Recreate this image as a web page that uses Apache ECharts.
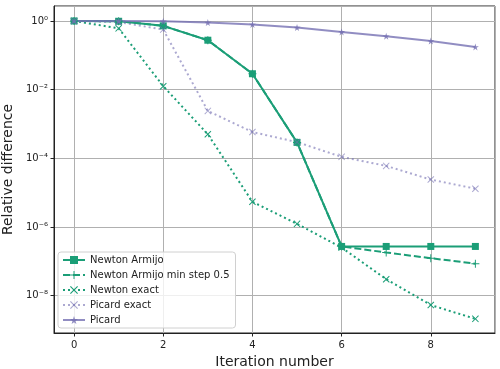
<!DOCTYPE html>
<html>
<head>
<meta charset="utf-8">
<script src="https://cdn.jsdelivr.net/npm/echarts@6/dist/echarts.min.js"></script>
<style>
	html, body { margin: 0; padding: 0; background: #fff; }
	#chart { width: 500px; height: 369px; }
</style>
</head>
<body>
<div id="chart"></div>
<script>
	// 数据
	var iterations = [0, 1, 2, 3, 4, 5, 6, 7, 8, 9];
	var newtonArmijo = [1.0, 0.98, 0.72, 0.275, 0.029, 2.9e-4, 2.7e-7, 2.7e-7, 2.7e-7, 2.7e-7];
	var newtonArmijoMinStep = [1.0, 0.98, 0.72, 0.275, 0.029, 2.9e-4, 2.7e-7, 1.8e-7, 1.23e-7, 8.5e-8];
	var newtonExact = [1.0, 0.61, 0.0126, 5.0e-4, 5.4e-6, 1.23e-6, 2.5e-7, 3.0e-8, 5.3e-9, 2.1e-9];
	var picardExact = [1.0, 0.93, 0.56, 2.4e-3, 5.8e-4, 2.96e-4, 1.1e-4, 6.0e-5, 2.4e-5, 1.3e-5];
	var picard = [1.0, 0.99, 0.98, 0.9, 0.79, 0.64, 0.48, 0.36, 0.26, 0.175];

	var seriesNames = ['Newton Armijo', 'Newton Armijo min step 0.5', 'Newton exact', 'Picard exact', 'Picard'];

	var GREEN = '#1b9e77';
	var PURPLE = 'rgba(117,112,179,0.8)';
	var PURPLE_LIGHT = 'rgba(117,112,179,0.6)';

	var SYM_X = 'path://M0,1L1,0L5,4L9,0L10,1L6,5L10,9L9,10L5,6L1,10L0,9L4,5Z';
	var SYM_PLUS = 'path://M4.4,0H5.6V4.4H10V5.6H5.6V10H4.4V5.6H0V4.4H4.4Z';
	var SYM_STAR = 'path://M50,0L61,35L98,35L68,57L79,91L50,70L21,91L32,57L2,35L39,35Z';

	var SUP = {'-': '\u207b', '0': '\u2070', '1': '\u00b9', '2': '\u00b2', '3': '\u00b3',
		'4': '\u2074', '5': '\u2075', '6': '\u2076', '7': '\u2077', '8': '\u2078', '9': '\u2079'};

	function toPairs(values){
		var results = [];
		for(var i = 0;i < iterations.length;i++){
			results.push([iterations[i], values[i]]);
		}
		return results;
	}

	function logLabel(value){
		var e = Math.round(Math.log10(value));
		var s = String(e).split('').map(function(c){ return SUP[c]; }).join('');
		return '10' + s;
	}

	function makeSeries(name, values, color, lineType, symbol, symbolSize){
		return {
			name: name,
			type: 'line',
			data: toPairs(values),
			symbol: symbol,
			symbolSize: symbolSize,
			showAllSymbol: true,
			animation: false,
			lineStyle: {color: color, width: 2, type: lineType},
			itemStyle: {color: color}
		};
	}

	var chart = echarts.init(document.getElementById('chart'));
	var option = {
		animation: false,
		textStyle: {fontFamily: 'DejaVu Sans'},
		grid: {
			left: 54,
			right: 5,
			top: 6,
			bottom: 36,
			containLabel: false,
			outerBoundsMode: 'none',
			show: true,
			borderColor: '#222',
			borderWidth: 1,
			backgroundColor: 'transparent'
		},
		legend: {
			orient: 'vertical',
			left: 58,
			top: 252,
			itemWidth: 22,
			itemHeight: 10,
			itemGap: 5,
			padding: [3, 6, 3, 4],
			backgroundColor: 'rgba(255,255,255,0.8)',
			borderColor: '#d0d0d0',
			borderWidth: 1,
			borderRadius: 3,
			textStyle: {fontSize: 10, color: '#222', fontFamily: 'DejaVu Sans'},
			data: seriesNames
		},
		xAxis: {
			type: 'value',
			min: -0.45,
			max: 9.44,
			splitNumber: 5,
			name: 'Iteration number',
			nameLocation: 'middle',
			nameGap: 20,
			nameTextStyle: {fontSize: 14, color: '#222', fontFamily: 'DejaVu Sans'},
			axisLine: {show: true, onZero: false, lineStyle: {color: '#222', width: 1}},
			axisTick: {show: true, length: 3.5, lineStyle: {color: '#222'}},
			axisLabel: {fontSize: 10, color: '#222', margin: 7, showMinLabel: false, showMaxLabel: false},
			splitLine: {show: true, lineStyle: {color: '#b0b0b0', width: 1}}
		},
		yAxis: {
			type: 'log',
			logBase: 100,
			min: Math.pow(10, -9.09),
			max: Math.pow(10, 0.436),
			name: 'Relative difference',
			nameLocation: 'middle',
			nameGap: 36,
			nameTextStyle: {fontSize: 14, color: '#222', fontFamily: 'DejaVu Sans'},
			axisLine: {show: true, onZero: false, lineStyle: {color: '#222', width: 1}},
			axisTick: {show: true, length: 3.5, lineStyle: {color: '#222'}},
			axisLabel: {fontSize: 10, color: '#222', margin: 6, showMinLabel: false, showMaxLabel: false,
				formatter: logLabel},
			splitLine: {show: true, lineStyle: {color: '#b0b0b0', width: 1}}
		},
		series: [
			makeSeries(seriesNames[0], newtonArmijo, GREEN, 'solid', 'rect', 7),
			makeSeries(seriesNames[1], newtonArmijoMinStep, GREEN, [7, 3], SYM_PLUS, 8),
			makeSeries(seriesNames[2], newtonExact, GREEN, [2, 3], SYM_X, 7),
			makeSeries(seriesNames[3], picardExact, PURPLE_LIGHT, [2, 3], SYM_X, 7),
			makeSeries(seriesNames[4], picard, PURPLE, 'solid', SYM_STAR, 7)
		]
	};
	chart.setOption(option);
</script>
</body>
</html>
